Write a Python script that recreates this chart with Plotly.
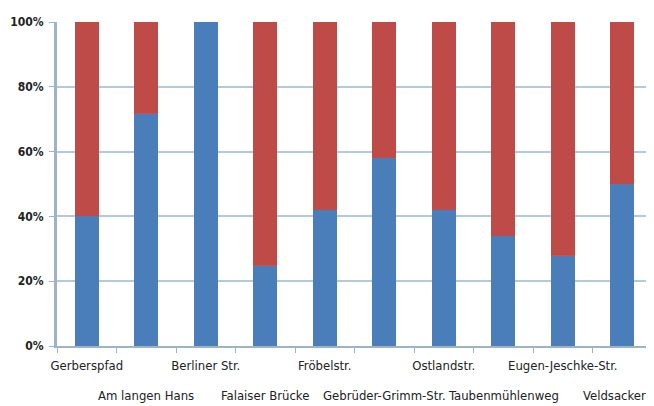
import plotly.graph_objects as go

categories = ["Gerberspfad", "Am langen Hans", "Berliner Str.", "Falaiser Brücke", "Fröbelstr.",
              "Gebrüder-Grimm-Str.", "Ostlandstr.", "Taubenmühlenweg", "Eugen-Jeschke-Str.", "Veldsacker"]
blue_values = [40, 72, 100, 25, 42, 58, 42, 34, 28, 50]
red_values = [60, 28, 0, 75, 58, 42, 58, 66, 72, 50]
y_ticks = [0, 20, 40, 60, 80, 100]
y_ticklabels = ["0%", "20%", "40%", "60%", "80%", "100%"]

FONT = "DejaVu Sans Condensed, Liberation Sans Narrow, sans-serif"

row1_text = [c if i % 2 == 0 else "" for i, c in enumerate(categories)]
row2_cats = [c for i, c in enumerate(categories) if i % 2 == 1]

fig = go.Figure()
fig.add_trace(go.Bar(x=categories, y=blue_values, marker=dict(color="#4a7ebb", line=dict(width=0)), name="A"))
fig.add_trace(go.Bar(x=categories, y=red_values, marker=dict(color="#be4b48", line=dict(width=0)), name="B"))

for j, c in enumerate(row2_cats):
    last = j == len(row2_cats) - 1
    fig.add_annotation(x=c, xref="x", y=0, yref="paper", yanchor="top", yshift=-40,
                       xshift=-8 if last else 0,
                       text=c, showarrow=False, font=dict(size=13, color="#222", family=FONT))

fig.update_layout(
    barmode="stack",
    bargap=0.6,
    width=646, height=398,
    margin=dict(l=49, r=2, t=14, b=60, autoexpand=False),
    paper_bgcolor="white", plot_bgcolor="white",
    showlegend=False,
    font=dict(family=FONT, color="#222"),
)
fig.update_xaxes(
    tickmode="array", tickvals=categories, ticktext=row1_text,
    tickson="boundaries", ticks="outside", ticklen=5, tickcolor="#9db4c6",
    showline=True, linecolor="#9db4c6", linewidth=2,
    tickfont=dict(size=13, color="#222", family=FONT), tickangle=0,
    ticklabelstandoff=6,
    showgrid=False, automargin=False,
)
fig.update_yaxes(
    range=[0, 100], tickmode="array", tickvals=y_ticks, ticktext=y_ticklabels,
    ticks="outside", ticklen=5, tickcolor="#9db4c6",
    showline=True, linecolor="#9db4c6", linewidth=3,
    gridcolor="#b3cadb", gridwidth=1.5,
    tickfont=dict(size=12, color="#222", family=FONT, weight="bold"),
    ticklabelstandoff=3,
    zeroline=False, automargin=False,
)
fig.write_html("out.html")
